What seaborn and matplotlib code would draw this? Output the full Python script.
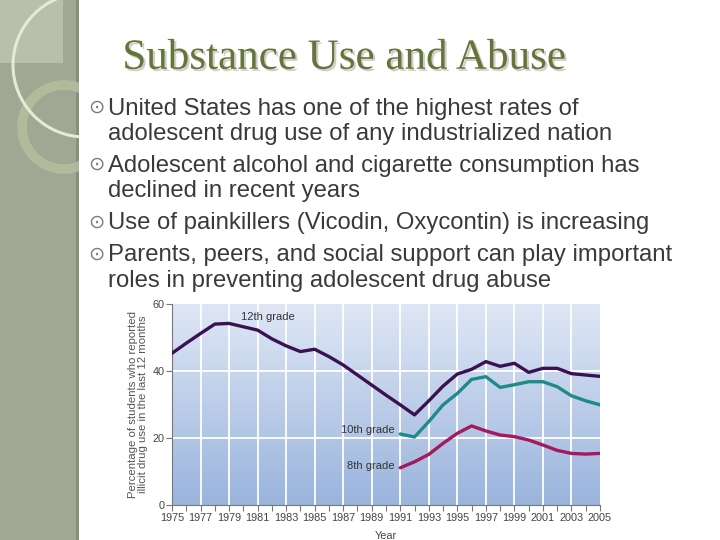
import numpy as np
import pandas as pd
import matplotlib
matplotlib.use("Agg")
import matplotlib.pyplot as plt
import matplotlib.patheffects as pe
import seaborn as sns
from matplotlib.colors import LinearSegmentedColormap
from matplotlib.patches import Rectangle, Circle

# data (percent reporting illicit drug use, last 12 months)
years_12 = list(range(1975, 2006))
pct_12 = [45.3, 48.3, 51.2, 54.0, 54.2, 53.2, 52.2, 49.6, 47.5, 45.8, 46.5,
          44.3, 41.8, 38.8, 35.8, 32.8, 29.9, 26.9, 31.1, 35.5, 39.1, 40.5,
          42.8, 41.4, 42.3, 39.6, 40.8, 40.8, 39.2, 38.8, 38.4]
years_low = list(range(1991, 2006))
pct_10 = [21.2, 20.3, 24.9, 29.9, 33.3, 37.5, 38.3, 35.1, 35.9, 36.8, 36.8,
          35.3, 32.6, 31.1, 29.9]
pct_8 = [11.1, 12.9, 15.1, 18.4, 21.4, 23.6, 22.1, 20.9, 20.4, 19.4, 17.9,
         16.3, 15.4, 15.2, 15.4]
grades = ["12th grade", "10th grade", "8th grade"]
grade_colors = ["#3a1252", "#1f8a8a", "#a3195b"]

title = "Substance Use and Abuse"
bullets = [
    ["United States has one of the highest rates of",
     "adolescent drug use of any industrialized nation"],
    ["Adolescent alcohol and cigarette consumption has",
     "declined in recent years"],
    ["Use of painkillers (Vicodin, Oxycontin) is increasing"],
    ["Parents, peers, and social support can play important",
     "roles in preventing adolescent drug abuse"],
]

df = pd.concat([
    pd.DataFrame({"year": years_12, "pct": pct_12, "grade": grades[0]}),
    pd.DataFrame({"year": years_low, "pct": pct_10, "grade": grades[1]}),
    pd.DataFrame({"year": years_low, "pct": pct_8, "grade": grades[2]}),
], ignore_index=True)

sns.set_style("white")
plt.rcParams["font.family"] = ["Liberation Sans", "DejaVu Sans"]

fig = plt.figure(figsize=(7.2, 5.4), dpi=100)

# slide background, pixel coordinates
bg = fig.add_axes([0, 0, 1, 1])
bg.set_xlim(0, 720)
bg.set_ylim(540, 0)
bg.axis("off")
bg.add_patch(Rectangle((0, 0), 76, 540, color="#a0a893", lw=0))
bg.add_patch(Rectangle((76, 0), 3, 540, color="#8b8f7e", lw=0))
bg.add_patch(Rectangle((0, 0), 63, 63, color="#b9bfab", lw=0))
bg.add_patch(Circle((64, 127), 42, fill=False, ec="#b3bd9c", lw=7, alpha=0.9))
bg.add_patch(Circle((85, 65), 72, fill=False, ec="#e4e9d8", lw=2.2))
bg.add_patch(Rectangle((79, 0), 641, 540, color="white", lw=0))

# title with soft shadow
bg.text(343.5, 58.5, title, fontsize=31, family="Liberation Serif",
        color="#65743a", ha="center", va="center",
        path_effects=[pe.SimplePatchShadow(offset=(1.5, -1.5),
                                           shadow_rgbFace="#cfcfc6", alpha=1),
                      pe.Normal()])

# bullet text
y = 114.5
for item in bullets:
    for j, line in enumerate(item):
        if j == 0:
            bg.text(96.5, y - 7.5, "\u2299", fontsize=14, family="DejaVu Sans",
                    color="#7a7a7a", ha="center", va="center")
        bg.text(108, y, line, fontsize=17.2, color="#3a3a3a",
                ha="left", va="baseline")
        y += 25.5
    y += 6.5

# chart
ax = fig.add_axes([172 / 720, 1 - 505 / 540, 428 / 720, 201 / 540])
cmap = LinearSegmentedColormap.from_list("bluefade", ["#9ab4dd", "#dfe7f5"])
ax.imshow(np.linspace(0, 1, 256).reshape(-1, 1), extent=[1975, 2005, 0, 60],
          origin="lower", aspect="auto", cmap=cmap, zorder=0)
for x in range(1977, 2005, 2):
    ax.axvline(x, color="white", lw=1.3, zorder=1)
for v in (20, 40):
    ax.axhline(v, color="white", lw=1.3, zorder=1)

sns.lineplot(data=df, x="year", y="pct", hue="grade", hue_order=grades,
             palette=grade_colors, linewidth=2.4, legend=False, ax=ax,
             zorder=3)

ax.set_xlim(1975, 2005)
ax.set_ylim(0, 60)
ax.set_xticks(range(1975, 2006, 2))
ax.set_xticks(range(1975, 2006), minor=True)
ax.set_yticks([0, 20, 40, 60])
ax.tick_params(axis="both", which="both", direction="out", length=4,
               width=0.8, color="#777777", labelsize=7.8,
               labelcolor="#444444", pad=1.5)
ax.tick_params(axis="x", which="both", bottom=True)
ax.tick_params(axis="y", left=True)
for side in ("top", "right"):
    ax.spines[side].set_visible(False)
for side in ("left", "bottom"):
    ax.spines[side].set_color("#777777")
    ax.spines[side].set_linewidth(0.8)

ax.set_xlabel("Year", fontsize=7.8, color="#444444", labelpad=6)
ax.set_ylabel("Percentage of students who reported\nillicit drug use in the last 12 months",
              fontsize=8.2, color="#555555", labelpad=3, linespacing=1.05)

ax.text(1981.7, 56, "12th grade", fontsize=8, color="#333333",
        ha="center", va="center")
ax.text(1990.6, 22.4, "10th grade", fontsize=8, color="#333333",
        ha="right", va="center")
ax.text(1990.6, 11.7, "8th grade", fontsize=8, color="#333333",
        ha="right", va="center")

fig.savefig("out.png", dpi=100)
